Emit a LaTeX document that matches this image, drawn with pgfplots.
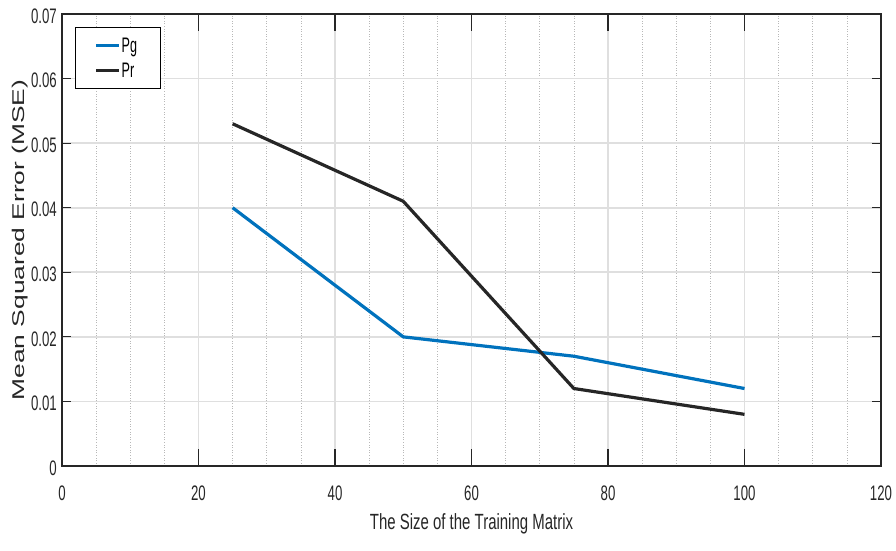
\documentclass[border=0pt]{standalone}
\usepackage{fontspec}
\usepackage{pgfplots}
\pgfplotsset{compat=1.18}
\setmainfont{Liberation Sans}
\newfontfamily\tickfont[FakeStretch=0.63]{Liberation Sans}
\newfontfamily\xlabfont[FakeStretch=0.68]{Liberation Sans}
\newfontfamily\ylabfont[FakeStretch=1.55]{Liberation Sans}
\newfontfamily\legfont[FakeStretch=0.6]{Liberation Sans}
\definecolor{mblue}{rgb}{0,0.447,0.741}
\definecolor{mblack}{HTML}{262626}
\definecolor{gridmaj}{HTML}{DFDFDF}
\definecolor{gridmin}{HTML}{B8B8B8}
\begin{document}
\begin{tikzpicture}
\useasboundingbox (-62pt,-84pt) rectangle (834pt,466pt);
\begin{axis}[
  at={(0pt,0pt)}, anchor=south west,
  scale only axis, width=819pt, height=452pt,
  xmin=0, xmax=120, ymin=0, ymax=0.07,
  scaled x ticks=false, scaled y ticks=false,
  xtick={0,20,40,60,80,100,120},
  xticklabels={0,20,40,60,80,100,120},
  ytick={0,0.01,0.02,0.03,0.04,0.05,0.06,0.07},
  yticklabels={0,0.01,0.02,0.03,0.04,0.05,0.06,0.07},
  minor x tick num=3,
  xtick pos=both, ytick pos=both,
  xticklabel pos=bottom, yticklabel pos=left,
  tick align=inside,
  major tick length=9pt, minor tick length=0pt,
  xtick style={/pgfplots/major tick length=17pt},
  tick style={mblack, line width=1.2pt},
  axis line style={mblack, line width=1.3pt},
  grid=both,
  major grid style={gridmaj, line width=1.6pt, solid},
  minor grid style={gridmin, line width=0.6pt, dotted},
  minor y tick num=0,
  ticklabel style={font=\tickfont\fontsize{21}{21}\selectfont, text=mblack, inner sep=0pt},
  xticklabel style={anchor=center, yshift=-27pt},
  yticklabel style={anchor=east, xshift=-5pt, yshift=-2pt},
  xlabel={The Size of the Training Matrix},
  ylabel={Mean Squared Error (MSE)},
  every axis x label/.style={at={(axis description cs:0.5,-0.128)}, anchor=center, font=\xlabfont\fontsize{22}{22}\selectfont, text=mblack},
  every axis y label/.style={at={(axis description cs:-0.0513,0.5)}, rotate=90, anchor=center, font=\ylabfont\fontsize{17}{17}\selectfont, text=mblack},
  legend style={at={(axis description cs:0.0159,0.9712)}, anchor=north west,
    draw=black, line width=1.3pt, inner xsep=19pt, inner ysep=9pt,
    row sep=7pt, font=\legfont\fontsize{21}{21}\selectfont,
    nodes={inner sep=1pt, text=black}},
  legend cell align=left,
  legend image code/.code={\draw[#1, line width=3pt] (0pt,0pt) -- (23pt,0pt);},
]
\addplot[mblue, line width=3.2pt] coordinates {(25,0.040) (50,0.020) (75,0.017) (100,0.012)};
\addlegendentry{\makebox[19pt][l]{Pg}}
\addplot[mblack, line width=3.2pt] coordinates {(25,0.053) (50,0.041) (75,0.012) (100,0.008)};
\addlegendentry{\makebox[19pt][l]{Pr}}
\end{axis}
\end{tikzpicture}
\end{document}
